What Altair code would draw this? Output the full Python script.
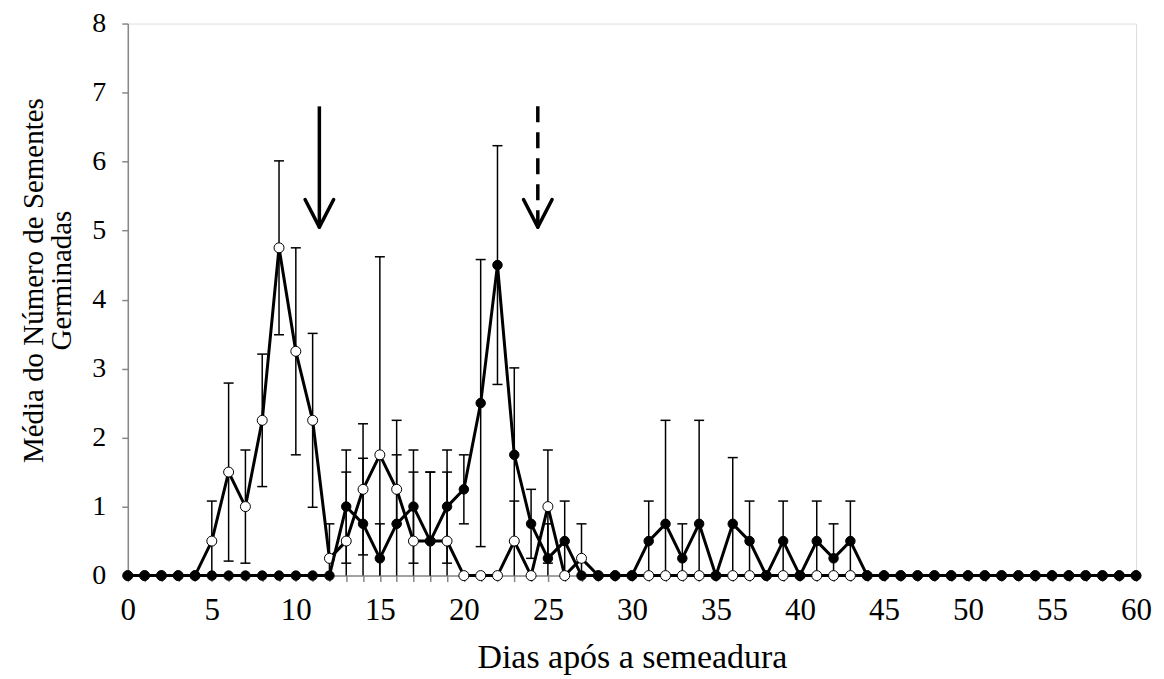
import altair as alt
import pandas as pd

days = list(range(61))

open_mean = [0, 0, 0, 0, 0,
             0.5, 1.5, 1.0, 2.25, 4.75, 3.25, 2.25, 0.25,
             0.5, 1.25, 1.75, 1.25, 0.5, 0.5, 0.5,
             0, 0, 0, 0.5, 0, 1.0, 0, 0.25] + [0] * 33
open_sd = [0, 0, 0, 0, 0,
           0.58, 1.29, 0.82, 0.96, 1.26, 1.5, 1.26, 0.5,
           1.0, 0.95, 2.87, 0.5, 1.0, 1.0, 1.0,
           0, 0, 0, 0.58, 0, 0.82, 0, 0.5] + [0] * 33

filled_mean = [0] * 13 + \
    [1.0, 0.75, 0.25, 0.75, 1.0, 0.5, 1.0,
     1.25, 2.5, 4.5, 1.75, 0.75, 0.25, 0.5, 0,
     0, 0, 0,
     0.5, 0.75, 0.25, 0.75, 0, 0.75, 0.5, 0, 0.5, 0, 0.5, 0.25, 0.5] + [0] * 17
filled_sd = [0] * 13 + \
    [0.82, 0.95, 0.5, 1.5, 0.82, 1.0, 0.82,
     0.5, 2.08, 1.73, 1.26, 0.5, 0.5, 0.58, 0,
     0, 0, 0,
     0.58, 1.5, 0.5, 1.5, 0, 0.96, 0.58, 0, 0.58, 0, 0.58, 0.5, 0.58] + [0] * 17

x_ticks = list(range(61))
y_ticks = list(range(9))

# arrows (annotation): x position, top of shaft, tip
arrow_x = [11.4, 24.4]
arrow_top = [6.8, 6.8]
arrow_tip = [5.05, 5.05]
arrow_style = ["solid", "dashed"]
head_dx = 0.85
head_dy = 0.4

FONT = "Liberation Serif"
AXIS_GREY = "#888888"

rows = []
for s, means, sds in (("open", open_mean, open_sd), ("filled", filled_mean, filled_sd)):
    for d, m, sd in zip(days, means, sds):
        rows.append({"day": d, "mean": m, "sd": sd, "series": s,
                     "lo": max(0.0, m - sd), "hi": m + sd,
                     "locap": (m - sd) > -0.01})
df = pd.DataFrame(rows)
err = df[df["sd"] > 0]
topcaps = err
botcaps = err[err["locap"]]

arrows = pd.DataFrame({"x": arrow_x, "top": arrow_top, "tip": arrow_tip, "style": arrow_style})
heads = []
for x, tip in zip(arrow_x, arrow_tip):
    heads.append({"x": x - head_dx, "y": tip + head_dy, "x2": x, "y2": tip})
    heads.append({"x": x + head_dx, "y": tip + head_dy, "x2": x, "y2": tip})
heads = pd.DataFrame(heads)

x_axis = alt.Axis(values=x_ticks, labelExpr="datum.value % 5 === 0 ? datum.label : ''",
                  tickSize=6, tickWidth=1.5, tickColor=AXIS_GREY, domainColor=AXIS_GREY,
                  domainWidth=1.5, labelFont=FONT, labelFontSize=31, labelColor="black",
                  labelPadding=14, labelOverlap=False, labelFlush=False, grid=False,
                  titleFont=FONT, titleFontSize=34, titleFontWeight="normal",
                  titleColor="black", titleBaseline="alphabetic", titleY=92)
y_axis = alt.Axis(values=y_ticks, tickSize=6, tickWidth=1.5, tickColor=AXIS_GREY,
                  domainColor=AXIS_GREY, domainWidth=1.5, labelFont=FONT, labelFontSize=28,
                  labelColor="black", labelPadding=16, grid=False, labelFlush=False,
                  titleFont=FONT, titleFontSize=29, titleFontWeight="normal",
                  titleColor="black", titlePadding=15, titleLineHeight=28, titleY=257)

xs = alt.Scale(domain=[0, 60], nice=False, zero=False)
ys = alt.Scale(domain=[0, 8], nice=False)
XT = "Dias após a semeadura"
YT = ["Média do Número de Sementes", "Germinadas"]


def X(f="day"):
    return alt.X(f"{f}:Q", scale=xs, axis=x_axis, title=XT)


def Y(f):
    return alt.Y(f"{f}:Q", scale=ys, axis=y_axis, title=YT)


bars = alt.Chart(err).mark_rule(color="black", strokeWidth=1.5).encode(
    x=X(), y=Y("lo"), y2="hi:Q")
caps_top = alt.Chart(topcaps).mark_rule(color="black", strokeWidth=1.5, xOffset=-5, x2Offset=5).encode(
    x=X(), x2="day:Q", y=Y("hi"))
caps_bot = alt.Chart(botcaps).mark_rule(color="black", strokeWidth=1.5, xOffset=-5, x2Offset=5).encode(
    x=X(), x2="day:Q", y=Y("lo"))

d_open = df[df["series"] == "open"]
d_filled = df[df["series"] == "filled"]

line_open = alt.Chart(d_open).mark_line(color="black", strokeWidth=3).encode(x=X(), y=Y("mean"))
pts_open = alt.Chart(d_open).mark_point(shape="circle", filled=True, fill="white", stroke="black",
                                        strokeWidth=1, size=100, opacity=1).encode(x=X(), y=Y("mean"))
line_filled = alt.Chart(d_filled).mark_line(color="black", strokeWidth=3).encode(x=X(), y=Y("mean"))
pts_filled = alt.Chart(d_filled).mark_point(shape="circle", filled=True, fill="black", stroke="black",
                                            strokeWidth=1, size=90, opacity=1).encode(x=X(), y=Y("mean"))

shaft_solid = alt.Chart(arrows[arrows["style"] == "solid"]).mark_rule(color="black", strokeWidth=3.5).encode(
    x=X("x"), y=Y("top"), y2="tip:Q")
shaft_dash = alt.Chart(arrows[arrows["style"] == "dashed"]).mark_rule(
    color="black", strokeWidth=3.5, strokeDash=[16, 10]).encode(
    x=X("x"), y=Y("top"), y2="tip:Q")
head_rules = alt.Chart(heads).mark_rule(color="black", strokeWidth=3.5, strokeCap="round").encode(
    x=X("x"), x2="x2:Q", y=Y("y"), y2="y2:Q")

chart = alt.layer(bars, caps_top, caps_bot, line_open, pts_open, line_filled, pts_filled,
                  shaft_solid, shaft_dash, head_rules).properties(
    width=1010, height=553,
    autosize=alt.AutoSizeParams(type="none"),
    padding={"left": 120, "top": 15, "right": 20, "bottom": 100},
).configure_view(stroke=None).configure(background="white")

chart.save("out.html", embed_options={"renderer": "svg", "actions": False})
